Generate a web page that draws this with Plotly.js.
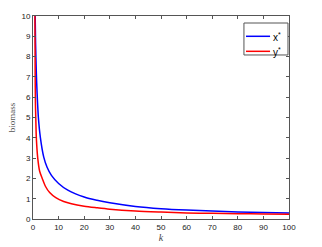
<!DOCTYPE html>
<html><head><meta charset="utf-8">
<script src="https://cdn.plot.ly/plotly-3.0.1.min.js"></script>
<style>html,body{margin:0;padding:0;background:#fff;}#c{width:322px;height:247px;}</style>
</head><body><div id="c"></div>
<script>
const kBlue = [0.85, 1, 1.3, 1.6, 2.1, 2.9, 4.2, 5.5, 7.2, 10, 13.6, 20, 25, 30, 40, 50, 60, 70, 80, 90, 100];
const xStar = [10, 8.7, 7.2, 6.2, 5.0, 4.0, 3.05, 2.55, 2.15, 1.75, 1.42, 1.08, 0.92, 0.8, 0.62, 0.51, 0.44, 0.39, 0.35, 0.32, 0.3];
const kRed = [0.75, 0.85, 0.95, 1.1, 1.3, 1.85, 2.6, 3.6, 4.9, 6.5, 8.9, 12, 15, 20, 25, 30, 40, 50, 60, 70, 80, 90, 100];
const yStar = [10, 7.0, 5.7, 4.9, 4.0, 3.0, 2.35, 2.0, 1.6, 1.3, 1.05, 0.86, 0.75, 0.63, 0.55, 0.48, 0.39, 0.34, 0.3, 0.28, 0.26, 0.25, 0.24];
const xTicks = [0,10,20,30,40,50,60,70,80,90,100];
const yTicks = [0,1,2,3,4,5,6,7,8,9,10];
const seriesNames = ['x<sup>*</sup>', 'y<sup>*</sup>'];
const seriesColors = ['#0000ff', '#ff0000'];

const traces = [
  {x: kBlue, y: xStar, mode: 'lines', name: seriesNames[0], line: {color: seriesColors[0], width: 1.5, shape: 'spline', smoothing: 0.8}},
  {x: kRed, y: yStar, mode: 'lines', name: seriesNames[1], line: {color: seriesColors[1], width: 1.5, shape: 'spline', smoothing: 0.8}}
];
const axCommon = {
  showline: true, mirror: 'ticks', linecolor: '#555', linewidth: 1,
  ticks: 'inside', ticklen: 3, tickcolor: '#555', showgrid: false, zeroline: false,
  tickfont: {family: 'Liberation Sans, Arial', size: 8, color: '#222'}
};
// manual MATLAB-style legend box
const legY = [0.9, 0.826];
const shapes = [
  {type: 'rect', xref: 'paper', yref: 'paper', x0: 0.824, x1: 0.996, y0: 0.808, y1: 0.9655,
   line: {color: '#555', width: 1}, fillcolor: '#fff', layer: 'above'}
];
const annotations = [];
for (let i = 0; i < 2; i++) {
  shapes.push({type: 'line', xref: 'paper', yref: 'paper', x0: 0.832, x1: 0.926, y0: legY[i], y1: legY[i],
    line: {color: seriesColors[i], width: 1.5}, layer: 'above'});
  annotations.push({xref: 'paper', yref: 'paper', x: 0.93, y: legY[i] - 0.005, xanchor: 'left', yanchor: 'middle',
    text: seriesNames[i], showarrow: false, font: {family: 'Liberation Sans, Arial', size: 10, color: '#000'}});
}
const layout = {
  width: 322, height: 247,
  margin: {l: 33, r: 33, t: 16, b: 28},
  paper_bgcolor: '#fff', plot_bgcolor: '#fff',
  showlegend: false,
  shapes: shapes, annotations: annotations,
  xaxis: Object.assign({}, axCommon, {range: [0, 100], tickvals: xTicks,
    title: {text: '<i>k</i>', standoff: 2, font: {family: 'Liberation Serif, Times New Roman', size: 10, color: '#444'}}}),
  yaxis: Object.assign({}, axCommon, {range: [0, 10], tickvals: yTicks,
    title: {text: 'biomass', standoff: 4, font: {family: 'Liberation Serif, Times New Roman', size: 9, color: '#555'}}})
};
Plotly.newPlot('c', traces, layout, {staticPlot: true, displayModeBar: false});
</script>
</body></html>
